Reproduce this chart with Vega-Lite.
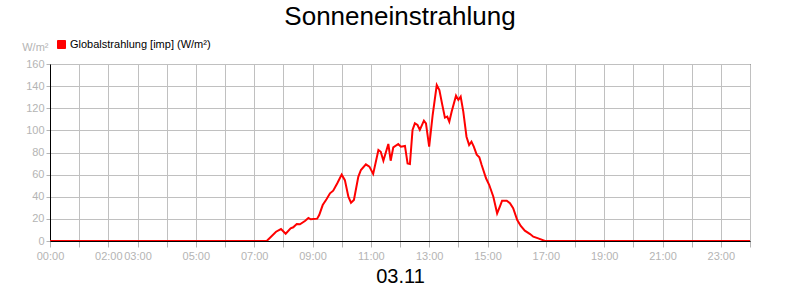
{
  "$schema": "https://vega.github.io/schema/vega-lite/v6.json",
  "width": 700,
  "height": 177,
  "autosize": "none",
  "padding": {"left": 50, "top": 64, "right": 50, "bottom": 59},
  "background": "white",
  "title": {
    "text": "Sonneneinstrahlung",
    "font": "Liberation Sans",
    "fontSize": 26,
    "fontWeight": "normal",
    "color": "black",
    "anchor": "middle",
    "frame": "group",
    "baseline": "alphabetic",
    "offset": -12
  },
  "data": {
    "values": [
      {"hour": 0, "value": 0, "series": "Globalstrahlung [imp] (W/m²)"},
      {"hour": 7.43, "value": 0, "series": "Globalstrahlung [imp] (W/m²)"},
      {"hour": 7.75, "value": 8.4, "series": "Globalstrahlung [imp] (W/m²)"},
      {"hour": 7.92, "value": 10.8, "series": "Globalstrahlung [imp] (W/m²)"},
      {"hour": 8.08, "value": 6.6, "series": "Globalstrahlung [imp] (W/m²)"},
      {"hour": 8.25, "value": 11.5, "series": "Globalstrahlung [imp] (W/m²)"},
      {"hour": 8.34, "value": 12.4, "series": "Globalstrahlung [imp] (W/m²)"},
      {"hour": 8.46, "value": 15.4, "series": "Globalstrahlung [imp] (W/m²)"},
      {"hour": 8.57, "value": 15.1, "series": "Globalstrahlung [imp] (W/m²)"},
      {"hour": 8.74, "value": 18.1, "series": "Globalstrahlung [imp] (W/m²)"},
      {"hour": 8.86, "value": 20.8, "series": "Globalstrahlung [imp] (W/m²)"},
      {"hour": 8.94, "value": 19.6, "series": "Globalstrahlung [imp] (W/m²)"},
      {"hour": 9.16, "value": 20.2, "series": "Globalstrahlung [imp] (W/m²)"},
      {"hour": 9.23, "value": 23.5, "series": "Globalstrahlung [imp] (W/m²)"},
      {"hour": 9.35, "value": 32.5, "series": "Globalstrahlung [imp] (W/m²)"},
      {"hour": 9.48, "value": 37.7, "series": "Globalstrahlung [imp] (W/m²)"},
      {"hour": 9.6, "value": 43.1, "series": "Globalstrahlung [imp] (W/m²)"},
      {"hour": 9.71, "value": 45.5, "series": "Globalstrahlung [imp] (W/m²)"},
      {"hour": 9.85, "value": 52.2, "series": "Globalstrahlung [imp] (W/m²)"},
      {"hour": 10.0, "value": 60, "series": "Globalstrahlung [imp] (W/m²)"},
      {"hour": 10.11, "value": 55, "series": "Globalstrahlung [imp] (W/m²)"},
      {"hour": 10.23, "value": 40, "series": "Globalstrahlung [imp] (W/m²)"},
      {"hour": 10.32, "value": 34.6, "series": "Globalstrahlung [imp] (W/m²)"},
      {"hour": 10.42, "value": 37.1, "series": "Globalstrahlung [imp] (W/m²)"},
      {"hour": 10.57, "value": 58, "series": "Globalstrahlung [imp] (W/m²)"},
      {"hour": 10.66, "value": 64.2, "series": "Globalstrahlung [imp] (W/m²)"},
      {"hour": 10.83, "value": 69.3, "series": "Globalstrahlung [imp] (W/m²)"},
      {"hour": 10.95, "value": 67.2, "series": "Globalstrahlung [imp] (W/m²)"},
      {"hour": 11.08, "value": 60.6, "series": "Globalstrahlung [imp] (W/m²)"},
      {"hour": 11.26, "value": 82.3, "series": "Globalstrahlung [imp] (W/m²)"},
      {"hour": 11.34, "value": 80.7, "series": "Globalstrahlung [imp] (W/m²)"},
      {"hour": 11.43, "value": 72.6, "series": "Globalstrahlung [imp] (W/m²)"},
      {"hour": 11.6, "value": 87.7, "series": "Globalstrahlung [imp] (W/m²)"},
      {"hour": 11.68, "value": 72.6, "series": "Globalstrahlung [imp] (W/m²)"},
      {"hour": 11.77, "value": 84.7, "series": "Globalstrahlung [imp] (W/m²)"},
      {"hour": 11.94, "value": 87.7, "series": "Globalstrahlung [imp] (W/m²)"},
      {"hour": 12.03, "value": 85.3, "series": "Globalstrahlung [imp] (W/m²)"},
      {"hour": 12.17, "value": 85.9, "series": "Globalstrahlung [imp] (W/m²)"},
      {"hour": 12.26, "value": 70.2, "series": "Globalstrahlung [imp] (W/m²)"},
      {"hour": 12.34, "value": 69.6, "series": "Globalstrahlung [imp] (W/m²)"},
      {"hour": 12.43, "value": 100.4, "series": "Globalstrahlung [imp] (W/m²)"},
      {"hour": 12.51, "value": 106.4, "series": "Globalstrahlung [imp] (W/m²)"},
      {"hour": 12.6, "value": 104.9, "series": "Globalstrahlung [imp] (W/m²)"},
      {"hour": 12.68, "value": 100.4, "series": "Globalstrahlung [imp] (W/m²)"},
      {"hour": 12.82, "value": 108.8, "series": "Globalstrahlung [imp] (W/m²)"},
      {"hour": 12.89, "value": 106.4, "series": "Globalstrahlung [imp] (W/m²)"},
      {"hour": 13.0, "value": 85.3, "series": "Globalstrahlung [imp] (W/m²)"},
      {"hour": 13.12, "value": 113.9, "series": "Globalstrahlung [imp] (W/m²)"},
      {"hour": 13.26, "value": 141, "series": "Globalstrahlung [imp] (W/m²)"},
      {"hour": 13.35, "value": 136.5, "series": "Globalstrahlung [imp] (W/m²)"},
      {"hour": 13.45, "value": 123, "series": "Globalstrahlung [imp] (W/m²)"},
      {"hour": 13.54, "value": 111.5, "series": "Globalstrahlung [imp] (W/m²)"},
      {"hour": 13.62, "value": 112.4, "series": "Globalstrahlung [imp] (W/m²)"},
      {"hour": 13.69, "value": 107.9, "series": "Globalstrahlung [imp] (W/m²)"},
      {"hour": 13.77, "value": 116.9, "series": "Globalstrahlung [imp] (W/m²)"},
      {"hour": 13.92, "value": 131.4, "series": "Globalstrahlung [imp] (W/m²)"},
      {"hour": 14.0, "value": 127.5, "series": "Globalstrahlung [imp] (W/m²)"},
      {"hour": 14.08, "value": 130.5, "series": "Globalstrahlung [imp] (W/m²)"},
      {"hour": 14.17, "value": 116.9, "series": "Globalstrahlung [imp] (W/m²)"},
      {"hour": 14.28, "value": 94.3, "series": "Globalstrahlung [imp] (W/m²)"},
      {"hour": 14.37, "value": 86.8, "series": "Globalstrahlung [imp] (W/m²)"},
      {"hour": 14.45, "value": 89.8, "series": "Globalstrahlung [imp] (W/m²)"},
      {"hour": 14.53, "value": 85.3, "series": "Globalstrahlung [imp] (W/m²)"},
      {"hour": 14.63, "value": 78, "series": "Globalstrahlung [imp] (W/m²)"},
      {"hour": 14.72, "value": 75.7, "series": "Globalstrahlung [imp] (W/m²)"},
      {"hour": 14.8, "value": 68.7, "series": "Globalstrahlung [imp] (W/m²)"},
      {"hour": 14.95, "value": 56.7, "series": "Globalstrahlung [imp] (W/m²)"},
      {"hour": 15.06, "value": 50.6, "series": "Globalstrahlung [imp] (W/m²)"},
      {"hour": 15.2, "value": 40, "series": "Globalstrahlung [imp] (W/m²)"},
      {"hour": 15.33, "value": 25, "series": "Globalstrahlung [imp] (W/m²)"},
      {"hour": 15.43, "value": 31.6, "series": "Globalstrahlung [imp] (W/m²)"},
      {"hour": 15.5, "value": 36.4, "series": "Globalstrahlung [imp] (W/m²)"},
      {"hour": 15.66, "value": 36.4, "series": "Globalstrahlung [imp] (W/m²)"},
      {"hour": 15.77, "value": 34.1, "series": "Globalstrahlung [imp] (W/m²)"},
      {"hour": 15.88, "value": 29.6, "series": "Globalstrahlung [imp] (W/m²)"},
      {"hour": 16.02, "value": 19, "series": "Globalstrahlung [imp] (W/m²)"},
      {"hour": 16.14, "value": 13.6, "series": "Globalstrahlung [imp] (W/m²)"},
      {"hour": 16.28, "value": 9.3, "series": "Globalstrahlung [imp] (W/m²)"},
      {"hour": 16.46, "value": 6.3, "series": "Globalstrahlung [imp] (W/m²)"},
      {"hour": 16.57, "value": 3.9, "series": "Globalstrahlung [imp] (W/m²)"},
      {"hour": 16.74, "value": 2.4, "series": "Globalstrahlung [imp] (W/m²)"},
      {"hour": 16.97, "value": 0, "series": "Globalstrahlung [imp] (W/m²)"},
      {"hour": 24, "value": 0, "series": "Globalstrahlung [imp] (W/m²)"}
    ]
  },
  "mark": {"type": "line", "strokeWidth": 2, "clip": true},
  "encoding": {
    "x": {
      "field": "hour",
      "type": "quantitative",
      "scale": {"domain": [0, 24], "nice": false, "zero": false},
      "axis": {
        "values": [0,1,2,3,4,5,6,7,8,9,10,11,12,13,14,15,16,17,18,19,20,21,22,23,24],
        "labelExpr": "indexof([0,2,3,5,7,9,11,13,15,17,19,21,23], datum.value) >= 0 ? (datum.value < 10 ? '0' : '') + datum.value + ':00' : ''",
        "labelFlush": false,
        "labelOverlap": false,
        "tickSize": 6,
        "labelPadding": 3,
        "title": "03.11",
        "titleFontSize": 20,
        "titleColor": "black",
        "titleFontWeight": "normal",
        "titleBaseline": "middle",
        "titleY": 35,
        "titleX": 350,
        "titleAnchor": null
      }
    },
    "y": {
      "field": "value",
      "type": "quantitative",
      "scale": {"domain": [0, 160], "nice": false},
      "axis": {
        "values": [0,20,40,60,80,100,120,140,160],
        "tickSize": 4,
        "labelPadding": 2,
        "title": "W/m²",
        "titleAngle": 0,
        "titleAlign": "right",
        "titleBaseline": "middle",
        "titleX": -2,
        "titleY": -17,
        "titleFontSize": 11,
        "titleFontWeight": "normal",
        "titleColor": "#b4b4b4"
      }
    },
    "color": {
      "field": "series",
      "type": "nominal",
      "scale": {"range": ["#ff0000"]},
      "legend": {
        "title": null,
        "orient": "none",
        "legendX": 6,
        "legendY": -25,
        "padding": 0,
        "symbolType": "square",
        "symbolSize": 64,
        "symbolFillColor": "#ff0000",
        "symbolStrokeColor": "black",
        "symbolStrokeWidth": 1,
        "symbolOpacity": 1,
        "labelFont": "Liberation Sans",
        "labelFontSize": 11,
        "labelColor": "black",
        "labelOffset": 3
      }
    }
  },
  "config": {
    "font": "Liberation Sans",
    "view": {"stroke": "black", "strokeWidth": 1},
    "axis": {
      "labelFont": "Liberation Sans",
      "labelFontSize": 11,
      "labelColor": "#b4b4b4",
      "tickColor": "#b4b4b4",
      "domainColor": "black",
      "domainWidth": 1,
      "gridColor": "#c0c0c0",
      "gridWidth": 1,
      "grid": true,
      "titleFont": "Liberation Sans"
    },
    "legend": {"symbolType": "square"}
  }
}
